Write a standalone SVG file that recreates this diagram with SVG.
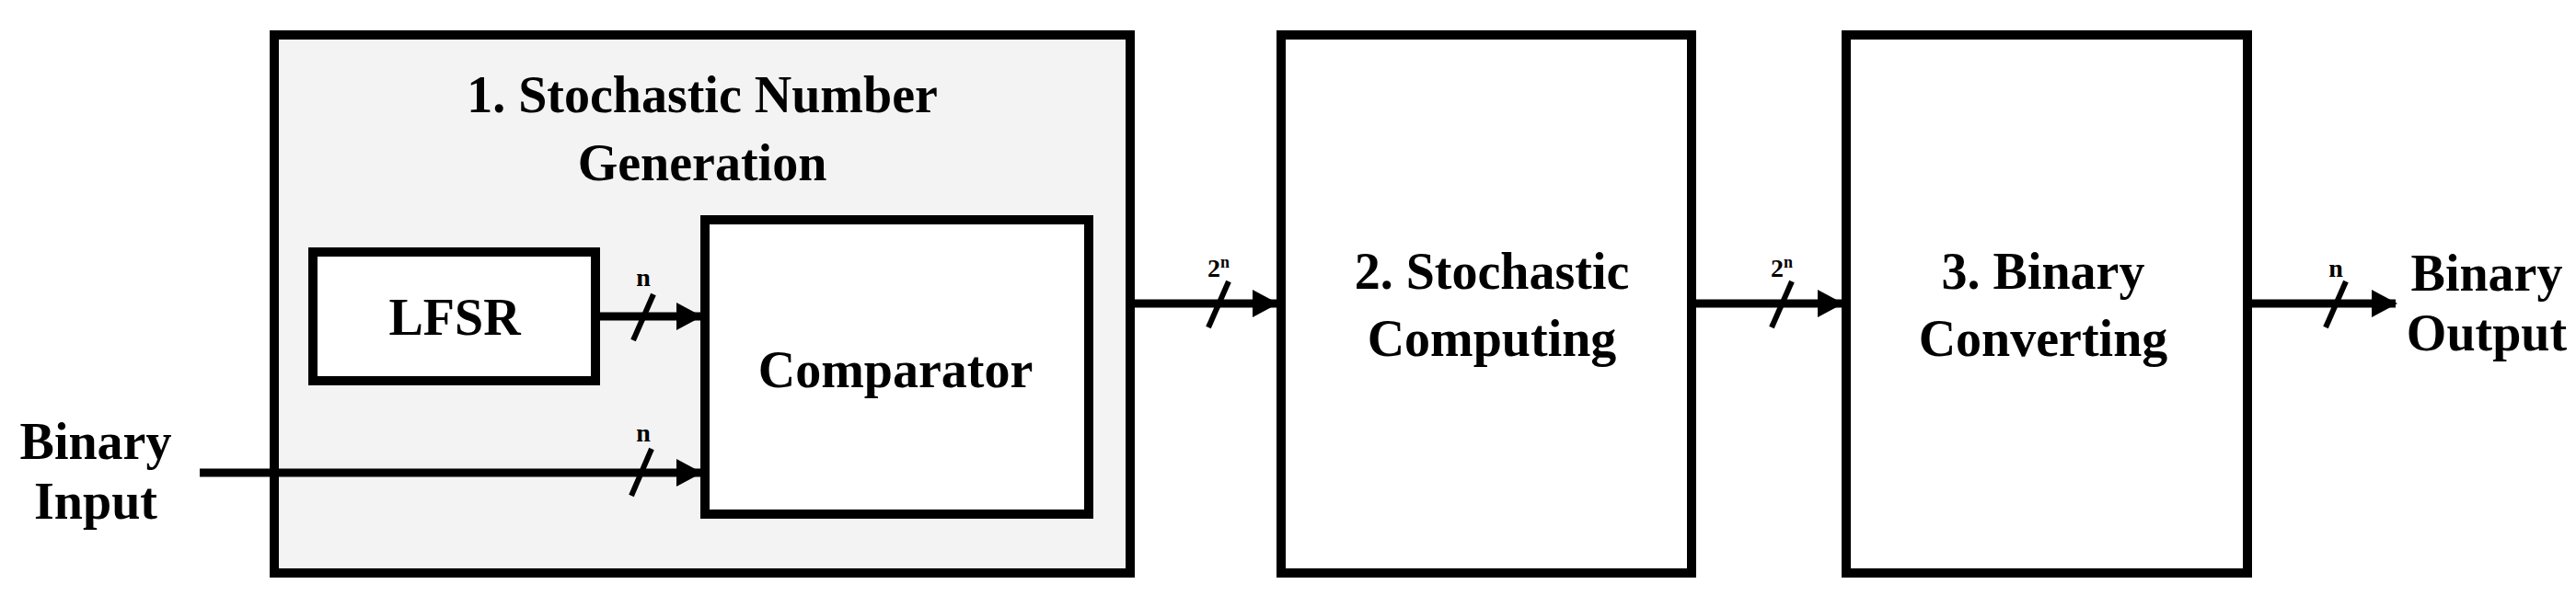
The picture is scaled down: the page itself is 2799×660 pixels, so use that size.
<svg xmlns="http://www.w3.org/2000/svg" width="2799" height="660" viewBox="0 0 2799 660">
<style>
.box{fill:#fff;stroke:#000;stroke-width:10}
.grp{fill:#f2f3f2;stroke:#000;stroke-width:10}
.t{font-family:"Liberation Serif",serif;font-weight:bold;font-size:56px;text-anchor:middle;fill:#000}
.s{font-family:"Liberation Serif",serif;font-weight:bold;font-size:28px;text-anchor:middle;fill:#000}
.w{stroke:#000;stroke-width:9;fill:none}
.sl{stroke:#000;stroke-width:6}
</style>
<defs><marker id="ah" markerUnits="userSpaceOnUse" markerWidth="28" markerHeight="30" refX="26" refY="15" orient="auto"><path d="M0,0L28,15L0,30Z" fill="#000"/></marker></defs>
<g id="sng"><rect class="grp" x="298" y="38" width="930" height="585"/>
<text class="t" x="763" y="122">1. Stochastic Number</text><text class="t" x="763" y="196">Generation</text></g>
<g id="lfsr"><rect class="box" x="340" y="274" width="307" height="140"/><text class="t" x="494" y="364">LFSR</text></g>
<g id="comparator"><rect class="box" x="766" y="239" width="417" height="320"/><text class="t" x="973" y="421">Comparator</text></g>
<g id="sc"><rect class="box" x="1392" y="38" width="446" height="585"/><text class="t" x="1621" y="314">2. Stochastic</text><text class="t" x="1621" y="387">Computing</text></g>
<g id="bc"><rect class="box" x="2006" y="38" width="436" height="585"/><text class="t" x="2220" y="314">3. Binary</text><text class="t" x="2220" y="387">Converting</text></g>
<g id="in"><text class="t" x="104" y="499" font-size="50">Binary</text><text class="t" x="104" y="564" font-size="50">Input</text></g>
<g id="out"><text class="t" x="2702" y="316" font-size="50">Binary</text><text class="t" x="2702" y="381" font-size="50">Output</text></g>
<g id="connectors">
<line class="w" x1="647" y1="344" x2="761" y2="344" marker-end="url(#ah)"/>
<line class="sl" x1="710" y1="320" x2="688" y2="370"/><text class="s" x="699" y="311">n</text>
<line class="w" x1="217" y1="514" x2="761" y2="514" marker-end="url(#ah)"/>
<line class="sl" x1="708" y1="488" x2="686" y2="539"/><text class="s" x="699" y="480">n</text>
<line class="w" x1="1233" y1="330" x2="1387" y2="330" marker-end="url(#ah)"/>
<line class="sl" x1="1335" y1="306" x2="1313" y2="356"/><text class="s" x="1324" y="301">2<tspan font-size="18" dy="-10">n</tspan></text>
<line class="w" x1="1843" y1="330" x2="2001" y2="330" marker-end="url(#ah)"/>
<line class="sl" x1="1947" y1="306" x2="1925" y2="356"/><text class="s" x="1936" y="301">2<tspan font-size="18" dy="-10">n</tspan></text>
<line class="w" x1="2447" y1="330" x2="2603" y2="330" marker-end="url(#ah)"/>
<line class="sl" x1="2549" y1="306" x2="2527" y2="356"/><text class="s" x="2538" y="301">n</text>
</g>
</svg>
